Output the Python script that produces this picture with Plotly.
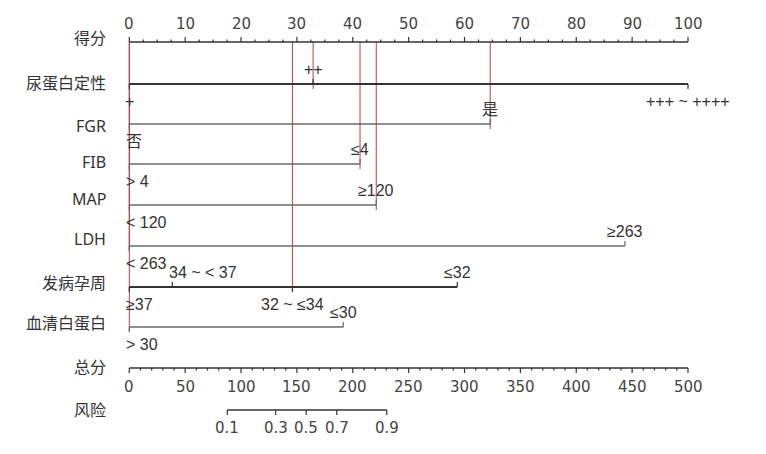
import plotly.graph_objects as go

# ---------------- data ----------------
points_ticks = [0, 10, 20, 30, 40, 50, 60, 70, 80, 90, 100]
total_ticks = [0, 50, 100, 150, 200, 250, 300, 350, 400, 450, 500]
risk_values = [0.1, 0.3, 0.5, 0.7, 0.9]
risk_total_points = [87.7, 131.0, 158.3, 185.7, 230.4]

var_names = ["尿蛋白定性", "FGR", "FIB", "MAP", "LDH", "发病孕周", "血清白蛋白"]
var_levels = [
    ["+", "++", "+++ ~ ++++"],
    ["否", "是"],
    ["> 4", "≤4"],
    ["< 120", "≥120"],
    ["< 263", "≥263"],
    ["≥37", "34 ~ < 37", "32 ~ ≤34", "≤32"],
    ["> 30", "≤30"],
]
var_points = [
    [0, 32.9, 100],
    [0, 64.6],
    [0, 41.3],
    [0, 44.2],
    [0, 88.7],
    [0, 7.7, 29.2, 58.7],
    [0, 38.3],
]
# selected level index for the highlighted case
selected_level = [1, 1, 1, 1, 0, 2, 0]

# ---------------- layout constants ----------------
W, H = 766, 454
OFF = 8  # page body margin
X0_PX, X100_PX = 129.3, 688.0
scale = (X100_PX - X0_PX) / 100.0
x_range = [(OFF - X0_PX) / scale, (W - OFF - X0_PX) / scale]

Y_POINTS = 42
ROW_Y = [84, 124, 164, 205, 246, 287, 327]
Y_TOTAL = 368
Y_RISK = 410
row_label_y = [38, 83, 126, 162, 199, 239, 283, 323, 367, 410]
heavy_rows = {0, 5}
label_sides = [
    ["below", "above", "below"],
    ["below", "above"],
    ["below", "above"],
    ["below", "above"],
    ["below", "above"],
    ["below", "above", "below", "above"],
    ["below", "above"],
]

DARK = "#333333"
GRAY = "#6a6a6a"
RED = "#b04444"
TXT = "Noto Sans, Noto Sans CJK SC"
LVL = "Liberation Sans, Noto Sans CJK SC"
NUMF = "DejaVu Sans"

fig = go.Figure()
ann = []


def seg_trace(xs, ys, color, width):
    fig.add_trace(go.Scatter(x=xs, y=ys, mode="lines",
                             line=dict(color=color, width=width),
                             hoverinfo="skip", showlegend=False))


# ---- red reference lines (drawn first, under axes) ----
rx, ry = [], []
for i, (pts, sel) in enumerate(zip(var_points, selected_level)):
    rx += [pts[sel], pts[sel], None]
    ry += [Y_POINTS, ROW_Y[i] + 5, None]
seg_trace(rx, ry, RED, 1)

# ---- points axis ----
seg_trace([0, 100], [Y_POINTS, Y_POINTS], DARK, 1.6)
tx, ty = [], []
k = 0.0
while k <= 100.001:
    major = abs(k / 10 - round(k / 10)) < 1e-6
    tx += [k, k, None]
    ty += [Y_POINTS, Y_POINTS - (5 if major else 2.5), None]
    k += 2.5
seg_trace(tx, ty, DARK, 1.2)
for v in points_ticks:
    ann.append(dict(x=v, y=24, text=str(v), showarrow=False,
                    font=dict(family=NUMF, size=15, color="#444444"),
                    xanchor="center", yanchor="middle"))

# ---- variable rows ----
for i, name in enumerate(var_names):
    pts = var_points[i]
    y = ROW_Y[i]
    heavy = i in heavy_rows
    col = DARK if heavy else GRAY
    seg_trace([min(pts), max(pts)], [y, y], col, 2.0 if heavy else 1.4)
    tx, ty = [], []
    for p, side in zip(pts, label_sides[i]):
        tx += [p, p, None]
        ty += [y, y - 5 if side == "above" else y + 5, None]
    seg_trace(tx, ty, col, 1.2)
    for j, (p, lab, side) in enumerate(zip(pts, var_levels[i], label_sides[i])):
        ly = y - 15 if side == "above" else y + 17
        if lab == "+":
            anchor, shift = "center", 0
        elif p == 0 or (i == 5 and j == 1):
            anchor, shift = "left", -5
        else:
            anchor, shift = "center", 0
        ann.append(dict(x=p, y=ly, text=lab, showarrow=False,
                        font=dict(family=LVL, size=16, color=DARK),
                        xanchor=anchor, xshift=shift, yanchor="middle"))

# ---- total points axis (0..500 mapped onto 0..100) ----
seg_trace([0, 100], [Y_TOTAL, Y_TOTAL], DARK, 1.6)
tx, ty = [], []
for t in range(0, 501, 10):
    major = t % 50 == 0
    tx += [t / 5, t / 5, None]
    ty += [Y_TOTAL, Y_TOTAL + (5 if major else 2.5), None]
seg_trace(tx, ty, DARK, 1.2)
for v in total_ticks:
    ann.append(dict(x=v / 5, y=387, text=str(v), showarrow=False,
                    font=dict(family=NUMF, size=15, color="#444444"),
                    xanchor="center", yanchor="middle"))

# ---- risk axis ----
rpx = [p / 5 for p in risk_total_points]
seg_trace([min(rpx), max(rpx)], [Y_RISK, Y_RISK], DARK, 1.4)
tx, ty = [], []
for p in rpx:
    tx += [p, p, None]
    ty += [Y_RISK, Y_RISK + 5, None]
seg_trace(tx, ty, DARK, 1.2)
for v, p in zip(risk_values, rpx):
    ann.append(dict(x=p, y=428, text=str(v), showarrow=False,
                    font=dict(family=NUMF, size=15, color="#444444"),
                    xanchor="center", yanchor="middle"))

# ---- row labels ----
all_labels = ["得分"] + var_names + ["总分", "风险"]
for lab, y in zip(all_labels, row_label_y):
    ann.append(dict(x=0, y=y, text=lab, showarrow=False, xshift=-21,
                    font=dict(family=TXT, size=16, color=DARK),
                    xanchor="right", yanchor="middle"))

fig.update_layout(
    width=W - 2 * OFF, height=H - 2 * OFF,
    margin=dict(l=0, r=0, t=0, b=0),
    paper_bgcolor="white", plot_bgcolor="white",
    xaxis=dict(range=x_range, visible=False, fixedrange=True),
    yaxis=dict(range=[H - OFF, OFF], visible=False, fixedrange=True),
    annotations=ann,
    showlegend=False,
)

fig.write_html("out.html")
